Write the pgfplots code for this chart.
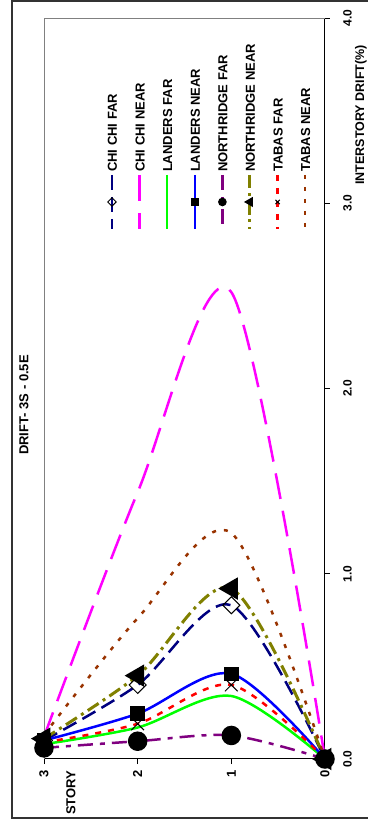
\documentclass[border=0pt]{standalone}
\usepackage{fontspec}
\setmainfont{Liberation Sans}
\usepackage{pgfplots}
\pgfplotsset{compat=1.18}
\definecolor{cnavy}{HTML}{000080}
\definecolor{cpink}{HTML}{FF00FF}
\definecolor{cgreen}{HTML}{00FF00}
\definecolor{cblue}{HTML}{0000FF}
\definecolor{cpurple}{HTML}{800080}
\definecolor{colive}{HTML}{808000}
\definecolor{cred}{HTML}{FF0000}
\definecolor{cbrown}{HTML}{993300}
\newcommand{\lbl}{\fontsize{13}{15}\selectfont\bfseries}
\begin{document}
\begin{tikzpicture}[x=1pt,y=1pt]
\useasboundingbox (0,0) rectangle (367,829);
\draw[line width=2pt, black!80] (12,11) rectangle (375,828);
\node[rotate=90, font=\lbl] at (24,424) {DRIFT- 3S - 0.5E};
\node[rotate=90, font=\fontsize{12.5}{14}\selectfont\bfseries] at (361,714) {INTERSTORY DRIFT(\%)};
\node[rotate=90, anchor=west, inner sep=0pt, font=\lbl] at (71,14) {STORY};
\begin{axis}[
  at={(44pt,70pt)}, anchor=south west,
  scale only axis, width=281pt, height=741pt,
  xmin=0, xmax=3, ymin=0, ymax=4, x dir=reverse,
  axis x line*=bottom, axis y line*=right,
  axis line style={-, line width=1pt, black},
  xtick={0,1,2,3}, xticklabels={0,1,2,3},
  ytick={0,1,2,3,4}, yticklabels={0.0,1.0,2.0,3.0,4.0},
  tick align=outside, major tick length=5pt,
  tick style={black, line width=0.8pt},
  xticklabel style={rotate=90, anchor=east, inner sep=0pt, xshift=-6pt, font=\lbl},
  yticklabel style={rotate=90, anchor=north, inner sep=0pt, yshift=-13pt, font=\fontsize{12}{14}\selectfont\bfseries},
  clip=false,
  legend columns=8,
  legend style={at={(axis description cs:0.2242,0.7922)}, anchor=south west,
    draw=none, fill=none, inner sep=0pt, outer sep=0pt, column sep=0pt,
    /tikz/every even column/.append style={column sep=17.6pt},
    nodes={inner sep=0pt, text height=10pt, text depth=0pt, font=\lbl, rotate=90, anchor=west}},
  legend image code/.code={\draw[overlay, mark repeat=2, mark phase=2, #1, mark size=3pt]
    plot coordinates {(5pt,-3pt) (5pt,-30pt) (5pt,-57pt)};},
]
\draw[gray, line width=0.8pt] (axis cs:3,0) -- (axis cs:3,4) -- (axis cs:0,4);

\addplot[smooth, cnavy, line width=2.5pt, dash pattern=on 15pt off 7pt,
  mark=square, mark size=6pt, mark options={rotate=45, solid, fill=white, draw=black, line width=1pt}]
  coordinates {(3,0.10) (2,0.40) (1,0.83) (0,0)};
\addlegendentry{CHI CHI FAR}
\addplot[smooth, cpink, line width=2.5pt, dash pattern=on 26pt off 12pt]
  coordinates {(3,0.12) (2,1.44) (1,2.52) (0,0)};
\addlegendentry{CHI CHI NEAR}
\addplot[smooth, cgreen, line width=2.5pt]
  coordinates {(3,0.08) (2,0.17) (1,0.34) (0,0)};
\addlegendentry{LANDERS FAR}
\addplot[smooth, cblue, line width=2.5pt,
  mark=square*, mark size=6pt, mark options={solid, fill=black, draw=black}]
  coordinates {(3,0.10) (2,0.245) (1,0.46) (0,0)};
\addlegendentry{LANDERS NEAR}
\addplot[smooth, cpurple, line width=2.5pt, dash pattern=on 15pt off 7pt on 5pt off 7pt,
  mark=*, mark size=8.5pt, mark options={solid, fill=black, draw=black}]
  coordinates {(3,0.06) (2,0.096) (1,0.127) (0,0)};
\addlegendentry{NORTHRIDGE FAR}
\addplot[smooth, colive, line width=3pt, dash pattern=on 13pt off 5pt on 3pt off 5pt,
  mark=triangle*, mark size=10pt, mark options={rotate=90, solid, fill=black, draw=black}]
  coordinates {(3,0.11) (2,0.45) (1,0.92) (0,0)};
\addlegendentry{NORTHRIDGE NEAR}
\addplot[smooth, cred, line width=2.5pt, dash pattern=on 6pt off 7pt,
  mark=x, mark size=9pt, mark options={solid, draw=black, line width=1pt}]
  coordinates {(3,0.09) (2,0.19) (1,0.40) (0,0)};
\addlegendentry{TABAS FAR}
\addplot[smooth, cbrown, line width=2.5pt, dash pattern=on 4pt off 8pt]
  coordinates {(3,0.13) (2,0.76) (1,1.22) (0,0)};
\addlegendentry{TABAS NEAR}
\end{axis}
\end{tikzpicture}
\end{document}
